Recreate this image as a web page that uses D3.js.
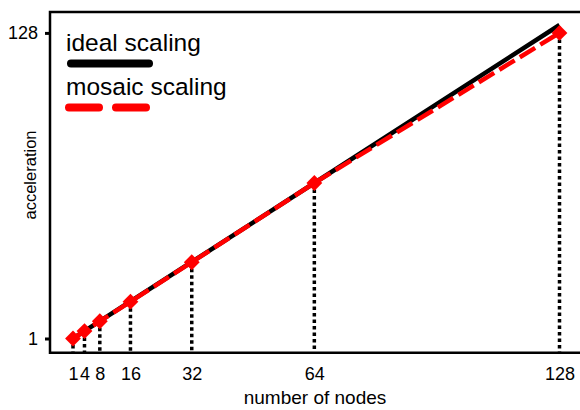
<!DOCTYPE html>
<html>
<head>
<meta charset="utf-8">
<script src="https://cdn.jsdelivr.net/npm/d3@7"></script>
<style>
  body { margin: 0; background: #fff; }
  text { font-family: Arial, "Liberation Sans", sans-serif; }
</style>
</head>
<body>
<svg id="viz" width="580" height="410"></svg>
<script>
// data
const nodes = [1, 4, 8, 16, 32, 64, 128];
const idealScaling = [1, 4, 8, 16, 32, 64, 128];
const mosaicScaling = [1, 4, 8, 15.9, 31.9, 64, 124.8];
const yTickValues = [1, 124.8];
const yTickLabels = ["1", "128"];
const legendLabels = ["ideal scaling", "mosaic scaling"];

let svg = d3.select("#viz");

let x = d3.scaleLinear().domain([1, 128]).range([73, 559.5]);
let y = d3.scaleLinear().domain([1, 128]).range([338.5, 25]);

const axisY = 352.7, plotLeft = 50, plotTop = 12;

// dotted drop lines from each mosaic point to the x axis
svg.append("g").selectAll("line")
    .data(nodes)
    .join("line")
    .attr("x1", d => x(d)).attr("x2", d => x(d))
    .attr("y1", (d, i) => y(mosaicScaling[i]))
    .attr("y2", axisY)
    .attr("stroke", "#000")
    .attr("stroke-width", 3.5)
    .attr("stroke-dasharray", "3.5,3");

// frame (left, top, bottom)
svg.append("path")
    .attr("d", `M580,${plotTop}H${plotLeft}V${axisY}H580`)
    .attr("fill", "none")
    .attr("stroke", "#000")
    .attr("stroke-width", 2.5);

let line = d3.line().x(d => x(d[0])).y(d => y(d[1]));

svg.append("path")
    .datum(nodes.map((n, i) => [n, idealScaling[i]]))
    .attr("d", line)
    .attr("fill", "none")
    .attr("stroke", "#000")
    .attr("stroke-width", 4.5);

svg.append("path")
    .datum(nodes.map((n, i) => [n, mosaicScaling[i]]))
    .attr("d", line)
    .attr("fill", "none")
    .attr("stroke", "#ff0000")
    .attr("stroke-width", 4.5)
    .attr("stroke-dasharray", "18,6");

// diamond markers
svg.append("g").selectAll("path")
    .data(nodes)
    .join("path")
    .attr("d", d3.symbol(d3.symbolSquare, 125))
    .attr("transform", (d, i) => `translate(${x(d)},${y(mosaicScaling[i])}) rotate(45)`)
    .attr("fill", "#ff0000");

// axes
let yAxis = svg.append("g")
    .attr("transform", `translate(${plotLeft},0)`)
    .call(d3.axisLeft(y).tickValues(yTickValues)
        .tickFormat((d, i) => yTickLabels[i])
        .tickSize(5).tickPadding(7));
yAxis.select(".domain").remove();
yAxis.selectAll("line").attr("stroke-width", 3);
yAxis.selectAll("text").attr("font-size", 18).attr("fill", "#000")
    .style("font-family", "Arial, 'Liberation Sans', sans-serif");

let xAxis = svg.append("g")
    .attr("transform", `translate(0,${axisY})`)
    .call(d3.axisBottom(x).tickValues(nodes).tickSize(0).tickPadding(15)
        .tickFormat(d3.format("d")));
xAxis.select(".domain").remove();
xAxis.selectAll("text").attr("font-size", 18).attr("fill", "#000")
    .style("font-family", "Arial, 'Liberation Sans', sans-serif");

// axis titles
svg.append("text")
    .attr("x", 315).attr("y", 404)
    .attr("text-anchor", "middle")
    .attr("font-size", 19)
    .text("number of nodes");

svg.append("text")
    .attr("transform", "translate(36,175) rotate(-90)")
    .attr("text-anchor", "middle")
    .attr("font-size", 16.5)
    .text("acceleration");

// legend
svg.append("text").attr("x", 66).attr("y", 51).attr("font-size", 24.5).text(legendLabels[0]);
svg.append("line")
    .attr("x1", 71).attr("x2", 149).attr("y1", 63.5).attr("y2", 63.5)
    .attr("stroke", "#000").attr("stroke-width", 8).attr("stroke-linecap", "round");

svg.append("text").attr("x", 66).attr("y", 95).attr("font-size", 24.5).text(legendLabels[1]);
svg.append("line")
    .attr("x1", 69).attr("x2", 147).attr("y1", 107.5).attr("y2", 107.5)
    .attr("stroke", "#ff0000").attr("stroke-width", 8).attr("stroke-linecap", "round")
    .attr("stroke-dasharray", "30,17");
</script>
</body>
</html>
